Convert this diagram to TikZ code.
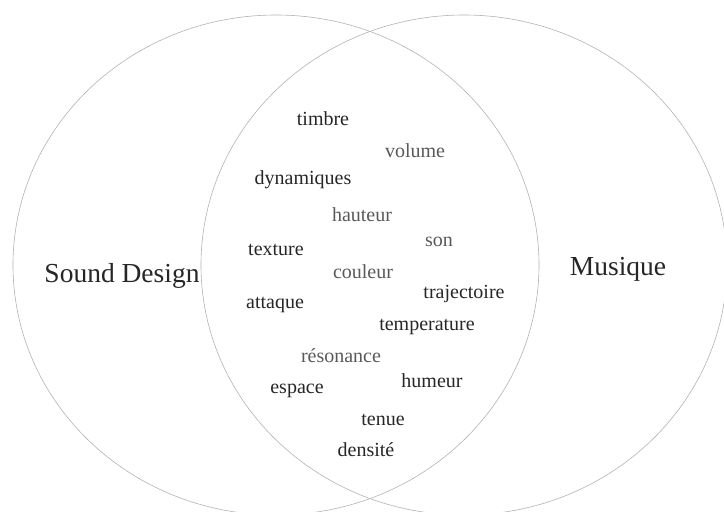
\documentclass[tikz,border=0pt]{standalone}
\usepackage{fontspec}
\setmainfont{Liberation Serif}

\begin{document}
\begin{tikzpicture}[x=1pt,y=-1pt]
        \useasboundingbox (0,0) rectangle (724,512);
        \tikzset{
          circ/.style={draw=black!30,line width=0.6pt},
          title/.style={anchor=base,font=\fontsize{27.5}{32}\selectfont,text=black!85},
          word/.style={anchor=base,font=\fontsize{20}{24}\selectfont,text=black!85},
          pale/.style={word,text=black!65}
        }

        \draw[circ] (276,265) ellipse [x radius=263pt,y radius=250pt];
        \draw[circ] (464,265) ellipse [x radius=263pt,y radius=250pt];

        \node[title] (sd) at (122,282) {Sound Design};
        \node[title] (mu) at (618,275) {Musique};

        \foreach[count=\i] \x/\y/\w in {323/125/timbre, 303/184/dynamiques,
          276/255/texture, 464/298/trajectoire, 275/308/attaque,
          427/330/temperature, 432/387/humeur, 297/393/espace,
          383/425/tenue, 366/456/densité} {
          \node[word] (w\i) at (\x,\y) {\w};
        }
        \foreach[count=\i] \x/\y/\w in {415/157/volume, 362/221/hauteur,
          439/246/son, 363/278/couleur, 341/362/résonance} {
          \node[pale] (p\i) at (\x,\y) {\w};
        }
      \end{tikzpicture}
\end{document}
